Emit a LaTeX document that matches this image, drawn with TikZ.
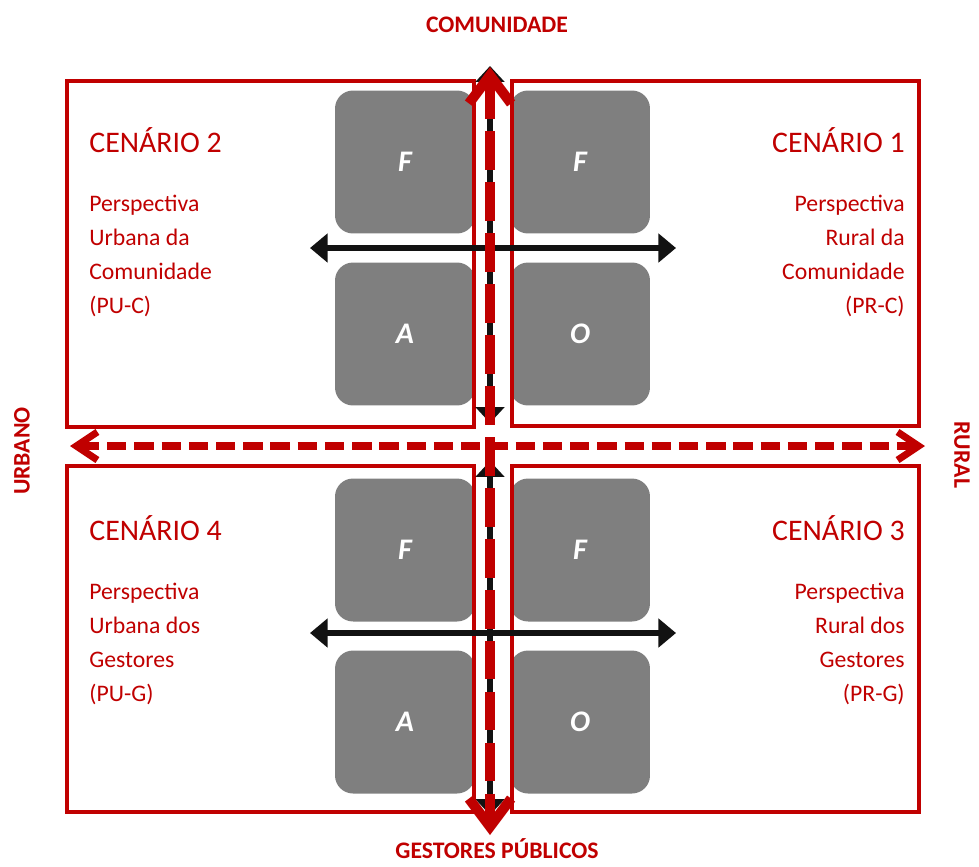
\documentclass[tikz,border=0pt]{standalone}
\usepackage{fontspec}
\setmainfont{Carlito}
\usetikzlibrary{arrows.meta}
\definecolor{vermelho}{HTML}{C00000}
\definecolor{cinza}{HTML}{7F7F7F}
\tikzset{
	bloco/.style={fill=cinza, rounded corners=0.36cm, minimum width=2.8cm, minimum height=2.86cm, inner sep=0pt, text=white, font=\fontsize{17}{20}\selectfont\bfseries\itshape},
	quadro/.style={draw=vermelho, line width=1.8pt},
	titulo/.style={text=vermelho, font=\fontsize{17}{20}\selectfont, inner sep=0pt},
	texto/.style={text=vermelho, font=\fontsize{13.5}{19.3}\selectfont, inner sep=0pt},
	eixo/.style={text=vermelho, font=\fontsize{13.5}{16}\selectfont\bfseries, inner sep=0pt},
	preta/.style={{Triangle[length=10pt,width=16pt]}-{Triangle[length=10pt,width=16pt]}, line width=3pt, black!93},
	pretav/.style={{Triangle[length=9pt,width=16pt]}-{Triangle[length=9pt,width=16pt]}, line width=3.6pt, black!93},
	eixov/.style={{Straight Barb[length=16pt,width=24pt]}-{Straight Barb[length=16pt,width=24pt]}, line width=5.7pt, vermelho, dash pattern=on 22pt off 7pt},
	eixoh/.style={{Straight Barb[length=12pt,width=16pt]}-{Straight Barb[length=12pt,width=16pt]}, line width=4pt, vermelho, dash pattern=on 11pt off 4.5pt}
}
\begin{document}
\begin{tikzpicture}[x=0.02cm, y=-0.02cm]
	\useasboundingbox (0,0) rectangle (979,866);
	% blocos
	\node[bloco] (f2) at (405,162) {F};
	\node[bloco] (f1) at (580,162) {F};
	\node[bloco] (a2) at (405,334) {A};
	\node[bloco] (o1) at (580,334) {O};
	\node[bloco] (f4) at (405,550) {F};
	\node[bloco] (f3) at (580,550) {F};
	\node[bloco] (a4) at (405,722) {A};
	\node[bloco] (o3) at (580,722) {O};

	% quadros
	\draw[quadro] (67,81) rectangle (474,427);
	\draw[quadro] (512,81) rectangle (919,426);
	\draw[quadro] (67,466) rectangle (474,812);
	\draw[quadro] (512,466) rectangle (919,812);

	% -
	\coordinate (hl1) at (310,248);
	\coordinate (hr1) at (676,248);
	\coordinate (hl2) at (310,633);
	\coordinate (hr2) at (676,633);
	\draw[preta] (hl1) -- (hr1);
	\draw[preta] (hl2) -- (hr2);

	% |
	\coordinate (vt1) at (490,66);
	\coordinate (vb1) at (490,423);
	\coordinate (vt2) at (490,461);
	\coordinate (vb2) at (490,815);
	\draw[pretav] (vt1) -- (vb1);
	\draw[pretav] (vt2) -- (vb2);

	% eixos
	\coordinate (comTop) at (490,67);
	\coordinate (gesBot) at (490,835);
	\coordinate (urbL) at (70,446);
	\coordinate (rurR) at (925,446);
	\draw[eixoh] (urbL) -- (rurR);
	\draw[eixov] (comTop) -- (gesBot);

	% label
	\node[eixo] (com) at (497,25) {COMUNIDADE};
	\node[eixo] (ges) at (497,849) {GESTORES PÚBLICOS};
	\node[eixo, rotate=90] (urb) at (22,451) {URBANO};
	\node[eixo, rotate=-90] (rur) at (962,455) {RURAL};

	\node[titulo, anchor=base west] (c2) at (89,152) {CENÁRIO 2};
	\node[texto, anchor=north west, align=left] (t2) at (89,195) {Perspectiva\\Urbana da\\Comunidade\\(PU-C)};
	\node[titulo, anchor=base east] (c1) at (905,152) {CENÁRIO 1};
	\node[texto, anchor=north east, align=right] (t1) at (905,195) {Perspectiva\\Rural da\\Comunidade\\(PR-C)};
	\node[titulo, anchor=base west] (c4) at (89,540) {CENÁRIO 4};
	\node[texto, anchor=north west, align=left] (t4) at (89,583) {Perspectiva\\Urbana dos\\Gestores\\(PU-G)};
	\node[titulo, anchor=base east] (c3) at (905,540) {CENÁRIO 3};
	\node[texto, anchor=north east, align=right] (t3) at (905,583) {Perspectiva\\Rural dos\\Gestores\\(PR-G)};
\end{tikzpicture}
\end{document}
